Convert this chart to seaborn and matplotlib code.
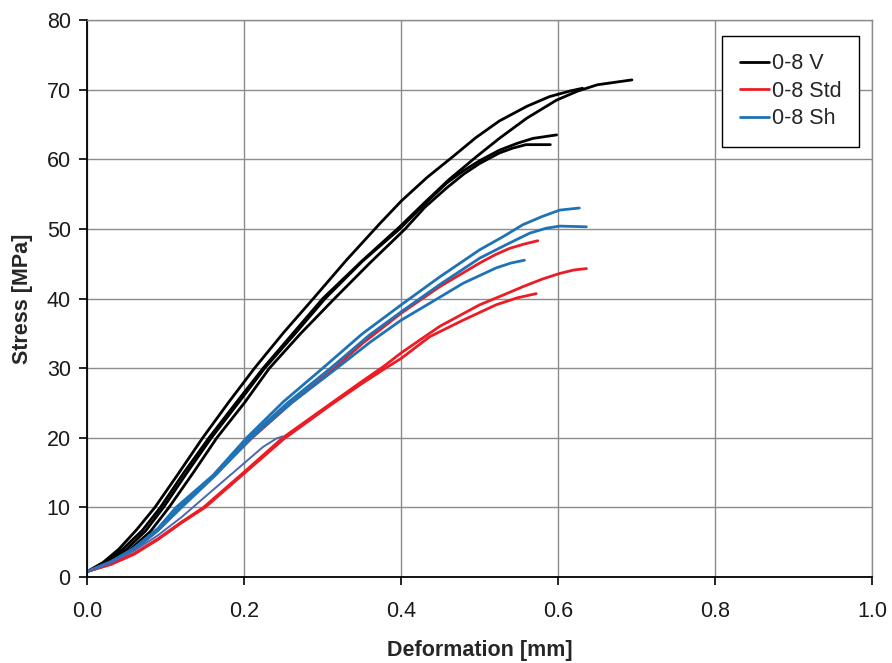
# Libraries
# ==============================================================================
import pandas as pd
import seaborn as sns
import matplotlib.pyplot as plt

# Data - stress/deformation curves
# ==============================================================================
# 0-8 V (black)
v1_x = [0, 0.02, 0.045, 0.07, 0.093, 0.123, 0.155, 0.19, 0.224, 0.262, 0.300, 0.35, 0.398, 0.43, 0.46, 0.495, 0.525, 0.56, 0.598, 0.625, 0.65, 0.675, 0.694]
v1_y = [0.8, 1.9, 4.0, 6.7, 10.0, 15.0, 20.0, 25.1, 30.0, 35.0, 40.0, 45.4, 50.3, 53.8, 57.0, 60.3, 63.0, 65.9, 68.5, 69.8, 70.7, 71.1, 71.4]
v2_x = [0, 0.02, 0.04, 0.062, 0.086, 0.115, 0.147, 0.18, 0.213, 0.25, 0.288, 0.33, 0.373, 0.40, 0.433, 0.466, 0.495, 0.525, 0.56, 0.589, 0.615, 0.631]
v2_y = [0.8, 2.1, 4.0, 6.7, 10.0, 14.7, 20.0, 25.1, 30.0, 35.1, 40.0, 45.5, 50.8, 54.0, 57.4, 60.4, 63.1, 65.5, 67.6, 69.0, 69.8, 70.2]
v3_x = [0, 0.025, 0.05, 0.074, 0.097, 0.127, 0.158, 0.193, 0.226, 0.265, 0.303, 0.35, 0.398, 0.43, 0.458, 0.48, 0.50, 0.525, 0.548, 0.568, 0.598]
v3_y = [0.8, 2.0, 4.0, 6.6, 10.0, 15.0, 20.0, 25.1, 30.0, 35.0, 40.0, 45.3, 50.0, 53.6, 56.6, 58.4, 59.8, 61.3, 62.3, 63.0, 63.5]
v4_x = [0, 0.03, 0.055, 0.08, 0.104, 0.135, 0.165, 0.2, 0.232, 0.272, 0.315, 0.36, 0.405, 0.43, 0.458, 0.48, 0.50, 0.525, 0.542, 0.559, 0.59]
v4_y = [0.8, 2.0, 4.0, 6.5, 10.0, 15.0, 20.0, 25.0, 30.0, 35.0, 40.0, 45.1, 50.0, 53.1, 55.9, 57.9, 59.4, 60.9, 61.6, 62.1, 62.1]

# 0-8 Std (red)
r1_x = [0, 0.03, 0.06, 0.09, 0.118, 0.165, 0.21, 0.26, 0.315, 0.351, 0.40, 0.449, 0.50, 0.52, 0.538, 0.556, 0.574]
r1_y = [0.8, 2.1, 4.0, 6.7, 10.0, 15.0, 20.0, 25.0, 30.0, 33.6, 37.9, 41.7, 45.1, 46.3, 47.2, 47.8, 48.3]
r2_x = [0, 0.03, 0.06, 0.09, 0.12, 0.148, 0.2, 0.249, 0.31, 0.35, 0.377, 0.40, 0.449, 0.50, 0.53, 0.555, 0.58, 0.602, 0.62, 0.636]
r2_y = [0.8, 1.9, 3.4, 5.5, 7.9, 10.0, 15.1, 20.0, 24.9, 28.1, 30.2, 32.2, 36.0, 39.1, 40.5, 41.7, 42.8, 43.6, 44.1, 44.3]
r3_x = [0, 0.03, 0.06, 0.09, 0.12, 0.15, 0.2, 0.25, 0.31, 0.35, 0.38, 0.40, 0.436, 0.479, 0.521, 0.548, 0.572]
r3_y = [0.8, 1.8, 3.3, 5.4, 7.8, 10.0, 14.9, 19.8, 24.7, 27.8, 30.0, 31.4, 34.5, 36.9, 39.1, 40.1, 40.7]

# 0-8 Sh (blue)
b1_x = [0, 0.03, 0.06, 0.09, 0.113, 0.16, 0.203, 0.25, 0.30, 0.35, 0.40, 0.449, 0.50, 0.53, 0.555, 0.58, 0.602, 0.627]
b1_y = [0.8, 2.2, 4.2, 7.0, 10.0, 14.6, 20.0, 25.2, 30.0, 34.9, 39.1, 43.1, 47.0, 48.9, 50.6, 51.8, 52.7, 53.0]
b2_x = [0, 0.03, 0.06, 0.09, 0.117, 0.16, 0.206, 0.255, 0.31, 0.36, 0.40, 0.449, 0.50, 0.535, 0.564, 0.585, 0.602, 0.636]
b2_y = [0.8, 2.2, 4.1, 6.9, 10.0, 14.5, 20.0, 25.0, 30.0, 34.8, 38.1, 42.0, 45.8, 47.8, 49.4, 50.1, 50.4, 50.3]
b3_x = [0, 0.03, 0.06, 0.09, 0.12, 0.163, 0.209, 0.26, 0.318, 0.36, 0.40, 0.436, 0.479, 0.521, 0.54, 0.557]
b3_y = [0.8, 2.1, 4.0, 6.7, 10.0, 14.6, 20.0, 25.0, 30.0, 33.7, 36.9, 39.3, 42.2, 44.4, 45.1, 45.5]
b4_x = [0, 0.03, 0.06, 0.09, 0.12, 0.16, 0.19, 0.224, 0.241, 0.249]
b4_y = [0.8, 2.1, 3.8, 6.0, 8.6, 12.5, 15.4, 18.7, 19.9, 20.2]

groups = ['0-8 V', '0-8 Std', '0-8 Sh']
colors = {'0-8 V': '#000000', '0-8 Std': '#ec1c24', '0-8 Sh': '#1f72b6'}

curves = [
    ('0-8 V', v1_x, v1_y), ('0-8 V', v2_x, v2_y), ('0-8 V', v3_x, v3_y), ('0-8 V', v4_x, v4_y),
    ('0-8 Std', r1_x, r1_y), ('0-8 Std', r2_x, r2_y), ('0-8 Std', r3_x, r3_y),
    ('0-8 Sh', b1_x, b1_y), ('0-8 Sh', b2_x, b2_y), ('0-8 Sh', b3_x, b3_y),
]

# Graph
# ==============================================================================
sns.set_style("white")
plt.rcParams['font.family'] = ['Liberation Sans', 'DejaVu Sans']

fig, ax = plt.subplots(figsize=(8.92, 6.63), dpi=100)
fig.subplots_adjust(left=0.098, right=0.9776, top=0.9698, bottom=0.1297)

handles = {}
for group, xs, ys in curves:
    df = pd.DataFrame({'x': xs, 'y': ys})
    sns.lineplot(data=df, x='x', y='y', color=colors[group], linewidth=2.0,
                 sort=False, estimator=None, ax=ax)
    if group not in handles:
        handles[group] = ax.lines[-1]

# short specimen drawn thinner, it sits over the red ones
sns.lineplot(x=b4_x, y=b4_y, color='#4a68b2', linewidth=1.4, sort=False, estimator=None, ax=ax)

# Axis and grid
ax.set_xlim(0, 1.0)
ax.set_ylim(0, 80)
ax.set_xticks([0, 0.2, 0.4, 0.6, 0.8, 1.0])
ax.set_xticklabels(['0.0', '0.2', '0.4', '0.6', '0.8', '1.0'])
ax.set_yticks(range(0, 81, 10))
ax.grid(True, color='#8c8c8c', linewidth=1.0)
ax.set_axisbelow(True)
for side in ['top', 'right']:
    ax.spines[side].set_color('#8c8c8c')
    ax.spines[side].set_linewidth(1.0)
for side in ['left', 'bottom']:
    ax.spines[side].set_color('black')
    ax.spines[side].set_linewidth(1.3)
ax.tick_params(axis='both', direction='out', length=6, width=1.2, color='black',
               labelsize=15.5, labelcolor='#1a1a1a', bottom=True, left=True)
ax.tick_params(axis='x', pad=11)
ax.tick_params(axis='y', pad=6)

ax.set_xlabel('Deformation [mm]', fontsize=15.5, fontweight='bold', labelpad=13)
ax.set_ylabel('Stress [MPa]', fontsize=15.5, fontweight='bold', labelpad=10)

# Legend
leg = ax.legend([handles[g] for g in groups], groups, loc='upper right',
                bbox_to_anchor=(0.983, 0.971), borderaxespad=0, fontsize=15.5,
                frameon=True, fancybox=False, edgecolor='black', framealpha=1,
                handlelength=1.35, handletextpad=0.15, labelspacing=0.3, borderpad=0.8)
leg.get_frame().set_linewidth(1.0)

fig.savefig('out.png', dpi=100)
